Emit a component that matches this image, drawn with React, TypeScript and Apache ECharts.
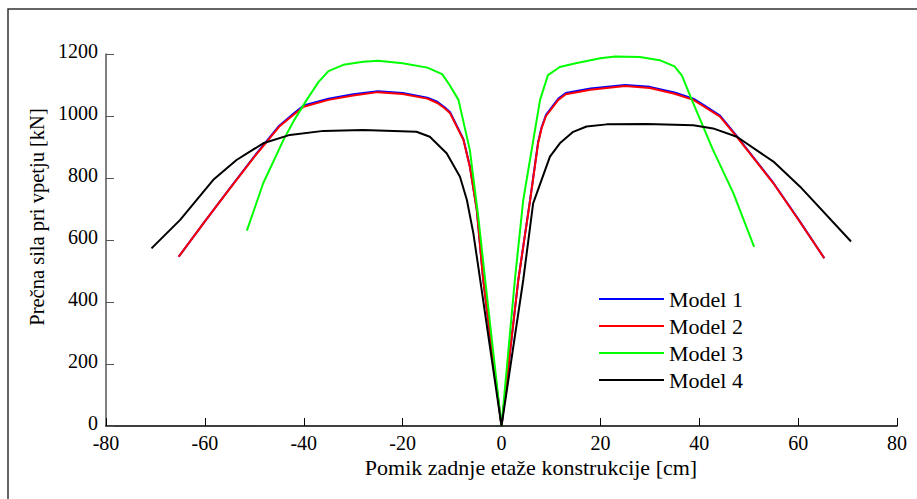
import React, { useEffect, useRef } from "react";
import * as echarts from "echarts";

// Model 1 (blue)
const m1X = [-65.3, -60, -55, -50, -45, -42, -40, -35, -30, -25, -20, -15, -13, -11.5, -10.4, -7.7, -6.4, -5, -3.7, 0, 3.4, 5.8, 7.4, 8.1, 9, 11.5, 13, 18, 25, 30, 35, 38.8, 41, 44.2, 47.6, 50, 55, 60, 65.3];
const m1Y = [546, 660, 766, 870, 968, 1009, 1034, 1056, 1070, 1080, 1074, 1059, 1046, 1028, 1012, 925, 838, 698, 471, 0, 471, 731, 915, 963, 1004, 1056, 1074, 1089, 1100, 1094, 1076, 1056, 1034, 1001, 935, 886, 784, 668, 541];
// Model 2 (red)
const m2X = [-65.3, -60, -55, -50, -45, -42, -40, -35, -30, -25, -20, -15, -13, -11.5, -10.4, -7.7, -6.4, -5, -3.7, 0, 3.4, 5.8, 7.4, 8.1, 9, 11.5, 13, 18, 25, 30, 35, 38.8, 41, 44.2, 47.6, 50, 55, 60, 65.3];
const m2Y = [546, 660, 765, 868, 965, 1005, 1030, 1052, 1066, 1077, 1071, 1056, 1042, 1025, 1009, 923, 836, 697, 471, 0, 471, 729, 912, 960, 1000, 1052, 1070, 1085, 1097, 1090, 1072, 1052, 1030, 998, 933, 884, 783, 667, 541];
// Model 3 (green)
const m3X = [-51.5, -48.2, -44.1, -42, -39.4, -37, -35, -32, -28, -25, -20, -15, -12, -10.5, -8.7, -6.4, -4.7, -3.3, 0, 2.7, 4.4, 7.8, 9.4, 11.8, 15, 20, 23, 28, 32, 35, 36.5, 38.5, 42.8, 46.9, 51.1];
const m3Y = [630, 783, 923, 985, 1052, 1110, 1145, 1165, 1175, 1178, 1170, 1156, 1135, 1100, 1052, 890, 675, 471, 0, 471, 729, 1052, 1132, 1158, 1170, 1186, 1192, 1190, 1180, 1160, 1130, 1052, 890, 751, 578];
// Model 4 (black)
const m4X = [-70.8, -65, -58.3, -53.6, -48.2, -42.8, -36, -28, -17.2, -14.5, -11.1, -8.4, -7, -5.7, -4.7, 0, 4.4, 6.4, 9.8, 11.8, 14.5, 17.2, 21.3, 29.4, 38.8, 42.8, 47.6, 55, 60.4, 70.7];
const m4Y = [573, 665, 794, 858, 912, 939, 952, 955, 949, 933, 880, 804, 729, 622, 514, 0, 471, 718, 869, 912, 949, 966, 973, 974, 970, 960, 933, 853, 772, 595];

const seriesNames = ["Model 1", "Model 2", "Model 3", "Model 4"];
const seriesColors = ["#0000ff", "#ff0000", "#00ff00", "#000000"];
const xTicks = { min: -80, max: 80, interval: 20 };
const yTicks = { min: 0, max: 1200, interval: 200 };

const zip = (xs: number[], ys: number[]) => xs.map((x, i) => [x, ys[i]]);

export default function App() {
  const ref = useRef<HTMLDivElement>(null);
  useEffect(() => {
    if (!ref.current) return;
    const chart = echarts.init(ref.current, null, { renderer: "svg" });
    const font = "Liberation Serif";
    const data = [zip(m1X, m1Y), zip(m2X, m2Y), zip(m3X, m3Y), zip(m4X, m4Y)];
    chart.setOption({
      animation: false,
      backgroundColor: "#ffffff",
      grid: { left: 106, right: 20, top: 54, bottom: 73, containLabel: false },
      xAxis: {
        type: "value",
        min: xTicks.min,
        max: xTicks.max,
        interval: xTicks.interval,
        axisLine: { show: true, onZero: false, lineStyle: { color: "#000", width: 1.5 } },
        axisTick: { show: true, inside: true, length: 8, lineStyle: { color: "#000" } },
        axisLabel: { fontFamily: font, fontSize: 20, color: "#000", margin: 9, lineHeight: 16, formatter: (v: number) => String(v) },
        splitLine: { show: false },
      },
      yAxis: {
        type: "value",
        min: yTicks.min,
        max: yTicks.max,
        interval: yTicks.interval,
        axisLine: { show: true, onZero: false, lineStyle: { color: "#555", width: 1.5 } },
        axisTick: { show: true, inside: true, length: 8, lineStyle: { color: "#555" } },
        axisLabel: { fontFamily: font, fontSize: 20, color: "#000", margin: 8, lineHeight: 6, verticalAlign: "bottom", formatter: (v: number) => String(v) },
        splitLine: { show: false },
      },
      legend: {
        orient: "vertical",
        left: 594,
        top: 283,
        icon: "rect",
        itemWidth: 65,
        itemHeight: 2,
        itemGap: 5,
        data: seriesNames,
        textStyle: { fontFamily: font, fontSize: 22, color: "#000", lineHeight: 20 },
      },
      graphic: [
        {
          type: "rect",
          shape: { x: 8, y: 9, width: 1000, height: 1000 },
          style: { fill: "none", stroke: "#333", lineWidth: 1.5 },
          silent: true,
        },
        {
          type: "text",
          x: 531,
          y: 467,
          style: {
            text: "Pomik zadnje etaže konstrukcije [cm]",
            fontFamily: font,
            fontSize: 22,
            fill: "#000",
            textAlign: "center",
            textVerticalAlign: "middle",
          },
        },
        {
          type: "text",
          x: 37,
          y: 217,
          rotation: Math.PI / 2,
          style: {
            text: "Prečna sila pri vpetju [kN]",
            fontFamily: font,
            fontSize: 20.5,
            fill: "#000",
            textAlign: "center",
            textVerticalAlign: "middle",
          },
        },
      ],
      series: seriesNames.map((name, i) => ({
        name,
        type: "line",
        data: data[i],
        showSymbol: false,
        symbol: "none",
        color: seriesColors[i],
        lineStyle: { color: seriesColors[i], width: 2 },
        z: 2 + i,
      })),
    });
    return () => chart.dispose();
  }, []);
  return (
    <div
      ref={ref}
      style={{ position: "absolute", left: 0, top: 0, width: 917, height: 499 }}
    />
  );
}
